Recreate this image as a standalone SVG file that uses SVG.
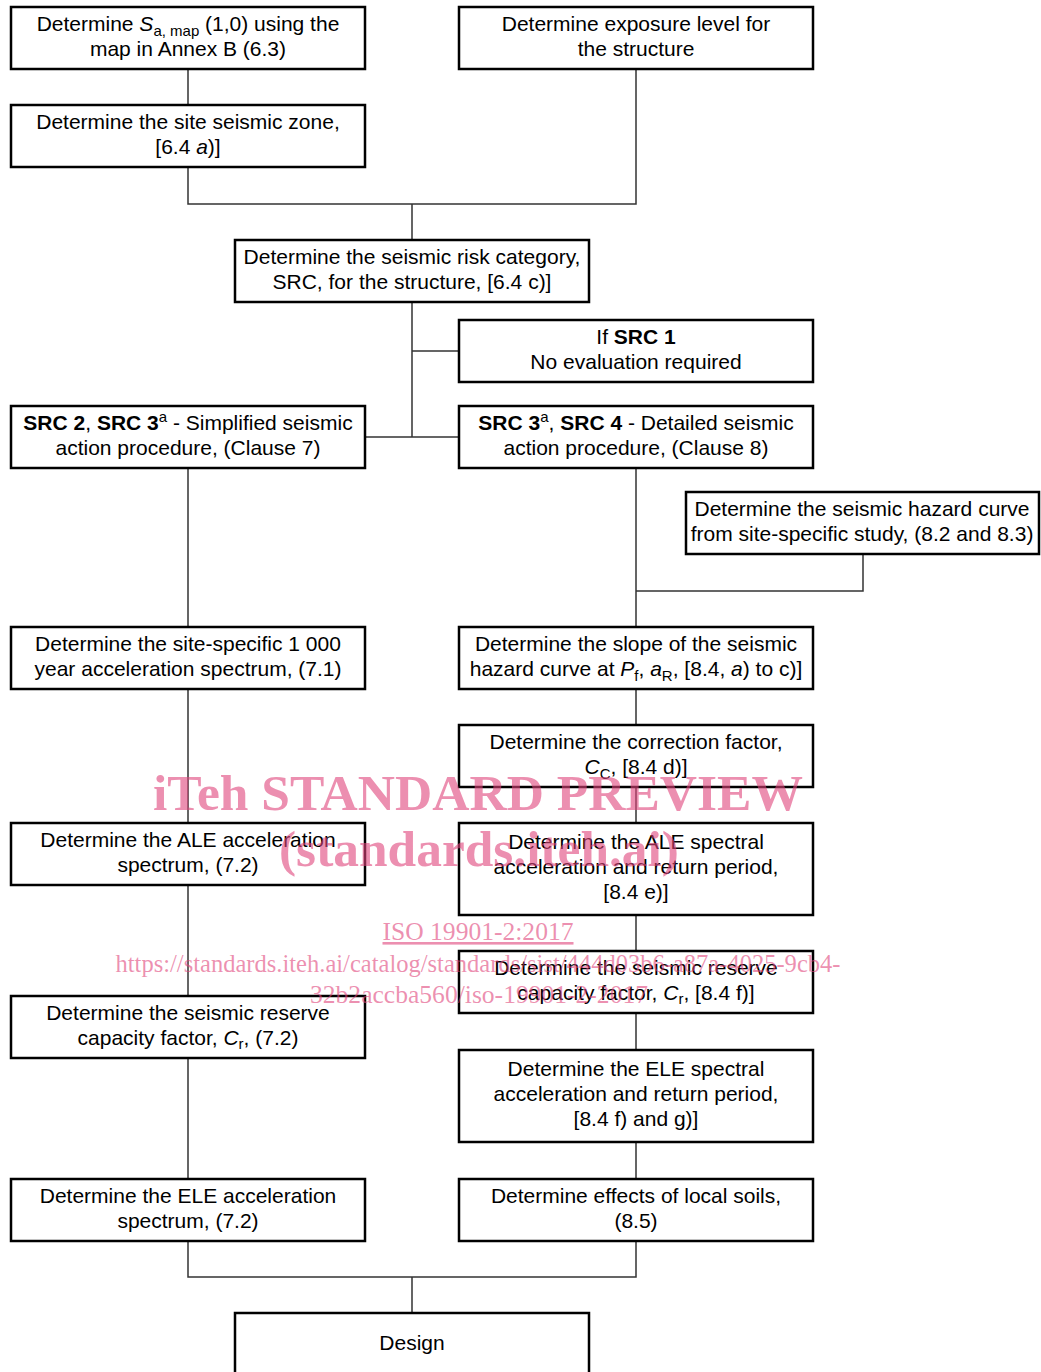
<svg xmlns="http://www.w3.org/2000/svg" width="1041" height="1372" viewBox="0 0 1041 1372">
<style>
.box{fill:#fff;stroke:#000;stroke-width:2.5}
.t{font-family:"Liberation Sans",Arial,sans-serif;font-size:21px;fill:#000;text-anchor:middle}
.b{font-weight:bold}
.i{font-style:italic}
.s{font-size:15px}
.con{fill:none;stroke:#333;stroke-width:1.5}
.wm{font-family:"Liberation Serif","Times New Roman",serif;fill:#e0457b;fill-opacity:0.6;text-anchor:middle}
</style>
<rect width="1041" height="1372" fill="#fff"/>
<g id="connectors">
<path class="con" d="M188 69V105M188 167V204H636V69M412 204V240"/>
<path class="con" d="M412 302V437M412 351H459M365 437H459"/>
<path class="con" d="M636 468V627M863 554V591H636"/>
<path class="con" d="M188 468V627M188 689V823M188 885V996M188 1058V1179"/>
<path class="con" d="M636 689V725M636 787V823M636 915V951M636 1013V1050M636 1142V1179"/>
<path class="con" d="M188 1241V1277H636V1241M412 1277V1313"/>
</g>
<g id="n1"><rect class="box" x="11" y="7" width="354" height="62"/>
<text class="t" x="188" y="31">Determine <tspan class="i">S</tspan><tspan class="s" dy="5">a, map</tspan><tspan dy="-5"> (1,0) using the</tspan></text>
<text class="t" x="188" y="56">map in Annex B (6.3)</text></g>
<g id="n2"><rect class="box" x="459" y="7" width="354" height="62"/>
<text class="t" x="636" y="31">Determine exposure level for</text>
<text class="t" x="636" y="56">the structure</text></g>
<g id="n3"><rect class="box" x="11" y="105" width="354" height="62"/>
<text class="t" x="188" y="129">Determine the site seismic zone,</text>
<text class="t" x="188" y="154">[6.4 <tspan class="i">a</tspan>)]</text></g>
<g id="n4"><rect class="box" x="235" y="240" width="354" height="62"/>
<text class="t" x="412" y="264">Determine the seismic risk category,</text>
<text class="t" x="412" y="289">SRC, for the structure, [6.4 c)]</text></g>
<g id="n5"><rect class="box" x="459" y="320" width="354" height="62"/>
<text class="t" x="636" y="344">If <tspan class="b">SRC 1</tspan></text>
<text class="t" x="636" y="369">No evaluation required</text></g>
<g id="n6"><rect class="box" x="11" y="406" width="354" height="62"/>
<text class="t" x="188" y="430"><tspan class="b">SRC 2</tspan>, <tspan class="b">SRC 3</tspan><tspan class="s" dy="-8">a</tspan><tspan dy="8"> - Simplified seismic</tspan></text>
<text class="t" x="188" y="455">action procedure, (Clause 7)</text></g>
<g id="n7"><rect class="box" x="459" y="406" width="354" height="62"/>
<text class="t" x="636" y="430"><tspan class="b">SRC 3</tspan><tspan class="s" dy="-8">a</tspan><tspan dy="8">, </tspan><tspan class="b">SRC 4</tspan> - Detailed seismic</text>
<text class="t" x="636" y="455">action procedure, (Clause 8)</text></g>
<g id="n8"><rect class="box" x="686" y="492" width="353" height="62"/>
<text class="t" x="862" y="516">Determine the seismic hazard curve</text>
<text class="t" x="862" y="541">from site-specific study, (8.2 and 8.3)</text></g>
<g id="n9"><rect class="box" x="11" y="627" width="354" height="62"/>
<text class="t" x="188" y="651">Determine the site-specific 1 000</text>
<text class="t" x="188" y="676">year acceleration spectrum, (7.1)</text></g>
<g id="n10"><rect class="box" x="459" y="627" width="354" height="62"/>
<text class="t" x="636" y="651">Determine the slope of the seismic</text>
<text class="t" x="636" y="676">hazard curve at <tspan class="i">P</tspan><tspan class="s" dy="5">f</tspan><tspan dy="-5">, </tspan><tspan class="i">a</tspan><tspan class="s" dy="5">R</tspan><tspan dy="-5">, [8.4, </tspan><tspan class="i">a</tspan>) to c)]</text></g>
<g id="n11"><rect class="box" x="459" y="725" width="354" height="62"/>
<text class="t" x="636" y="749">Determine the correction factor,</text>
<text class="t" x="636" y="774"><tspan class="i">C</tspan><tspan class="s" dy="5">C</tspan><tspan dy="-5">, [8.4 d)]</tspan></text></g>
<g id="n12"><rect class="box" x="11" y="823" width="354" height="62"/>
<text class="t" x="188" y="847">Determine the ALE acceleration</text>
<text class="t" x="188" y="872">spectrum, (7.2)</text></g>
<g id="n13"><rect class="box" x="459" y="823" width="354" height="92"/>
<text class="t" x="636" y="849">Determine the ALE spectral</text>
<text class="t" x="636" y="874">acceleration and return period,</text>
<text class="t" x="636" y="899">[8.4 e)]</text></g>
<g id="n14"><rect class="box" x="459" y="951" width="354" height="62"/>
<text class="t" x="636" y="975">Determine the seismic reserve</text>
<text class="t" x="636" y="1000">capacity factor, <tspan class="i">C</tspan><tspan class="s" dy="4">r</tspan><tspan dy="-4">, [8.4 f)]</tspan></text></g>
<g id="n15"><rect class="box" x="11" y="996" width="354" height="62"/>
<text class="t" x="188" y="1020">Determine the seismic reserve</text>
<text class="t" x="188" y="1045">capacity factor, <tspan class="i">C</tspan><tspan class="s" dy="4">r</tspan><tspan dy="-4">, (7.2)</tspan></text></g>
<g id="n16"><rect class="box" x="459" y="1050" width="354" height="92"/>
<text class="t" x="636" y="1076">Determine the ELE spectral</text>
<text class="t" x="636" y="1101">acceleration and return period,</text>
<text class="t" x="636" y="1126">[8.4 f) and g)]</text></g>
<g id="n17"><rect class="box" x="11" y="1179" width="354" height="62"/>
<text class="t" x="188" y="1203">Determine the ELE acceleration</text>
<text class="t" x="188" y="1228">spectrum, (7.2)</text></g>
<g id="n18"><rect class="box" x="459" y="1179" width="354" height="62"/>
<text class="t" x="636" y="1203">Determine effects of local soils,</text>
<text class="t" x="636" y="1228">(8.5)</text></g>
<g id="n19"><rect class="box" x="235" y="1313" width="354" height="80"/>
<text class="t" x="412" y="1350">Design</text></g>
<g id="watermark">
<text class="wm" x="478" y="810" font-size="50" font-weight="bold" textLength="650" lengthAdjust="spacingAndGlyphs">iTeh STANDARD PREVIEW</text>
<text class="wm" x="479" y="866" font-size="50" font-weight="bold" textLength="400" lengthAdjust="spacingAndGlyphs">(standards.iteh.ai)</text>
<text class="wm" x="478" y="940" font-size="26" text-decoration="underline" textLength="191" lengthAdjust="spacingAndGlyphs">ISO 19901-2:2017</text>
<text class="wm" x="478" y="972" font-size="26" textLength="725" lengthAdjust="spacingAndGlyphs">https://standards.iteh.ai/catalog/standards/sist/444d03b6-a87a-4025-9cb4-</text>
<text class="wm" x="479" y="1003" font-size="26" textLength="338" lengthAdjust="spacingAndGlyphs">32b2accba560/iso-19901-2-2017</text>
</g>
</svg>
